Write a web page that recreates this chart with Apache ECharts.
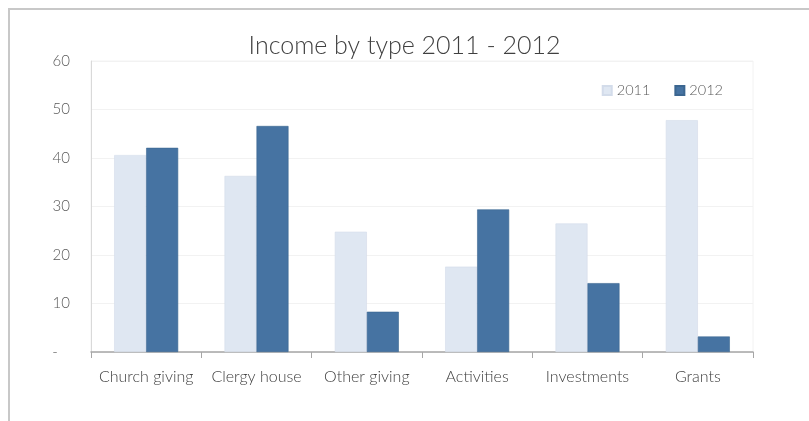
<!DOCTYPE html>
<html>
<head>
<meta charset="utf-8">
<script src="https://cdn.jsdelivr.net/npm/echarts@6/dist/echarts.min.js"></script>
<style>
html,body{margin:0;padding:0;background:#fff;overflow:hidden;}
#frame{position:absolute;left:8px;top:8px;width:900px;height:500px;border-top:2px solid #c8c8c8;border-left:2px solid #c8c8c8;}
#chart{position:absolute;left:0;top:0;width:809px;height:421px;}
</style>
</head>
<body>
<div id="frame"></div>
<div id="chart"></div>
<script>
const categories = ['Church giving', 'Clergy house', 'Other giving', 'Activities', 'Investments', 'Grants'];
const values2011 = [40.6, 36.3, 24.8, 17.6, 26.5, 47.8];
const values2012 = [42.1, 46.6, 8.3, 29.4, 14.2, 3.2];
const seriesNames = ['2011', '2012'];

const chart = echarts.init(document.getElementById('chart'), null, {renderer: 'canvas'});
const font = 'Lato, "Open Sans", sans-serif';
chart.setOption({
  animation: false,
  backgroundColor: 'transparent',
  title: {
    text: 'Income by type 2011 - 2012',
    left: 'center',
    top: 28,
    textStyle: {fontFamily: font, fontWeight: 300, fontSize: 25, color: '#404040'}
  },
  legend: {
    data: seriesNames,
    right: 81,
    top: 78,
    itemWidth: 9,
    itemHeight: 9,
    itemGap: 24,
    icon: 'rect',
    textStyle: {fontFamily: font, fontWeight: 300, fontSize: 14.5, color: '#595959'}
  },
  grid: {left: 91, right: 56, top: 61, bottom: 69, show: true, borderColor: '#f2f2f2', borderWidth: 1},
  xAxis: {
    type: 'category',
    data: categories,
    axisLine: {lineStyle: {color: '#a6a6a6', width: 1.5}},
    axisTick: {show: true, length: 6, lineStyle: {color: '#a6a6a6'}},
    axisLabel: {fontFamily: font, fontWeight: 300, fontSize: 16, color: '#404040', margin: 17, interval: 0},
    splitLine: {show: false}
  },
  yAxis: {
    type: 'value',
    min: 0,
    max: 60,
    interval: 10,
    axisLine: {show: true, lineStyle: {color: '#d9d9d9'}},
    axisTick: {show: false},
    splitLine: {lineStyle: {color: '#f2f2f2'}},
    axisLabel: {
      fontFamily: font, fontWeight: 300, fontSize: 15, color: '#595959', margin: 21,
      formatter: v => v === 0 ? '-   ' : String(v)
    }
  },
  series: [
    {
      name: seriesNames[0], type: 'bar', data: values2011,
      barGap: '0%', barCategoryGap: '42%',
      itemStyle: {color: '#dfe7f2', borderColor: '#d3dcea', borderWidth: 0.6}
    },
    {
      name: seriesNames[1], type: 'bar', data: values2012,
      barGap: '0%', barCategoryGap: '42%',
      itemStyle: {color: '#4673a2', borderColor: '#3b6690', borderWidth: 0.6}
    }
  ]
});
</script>
</body>
</html>
